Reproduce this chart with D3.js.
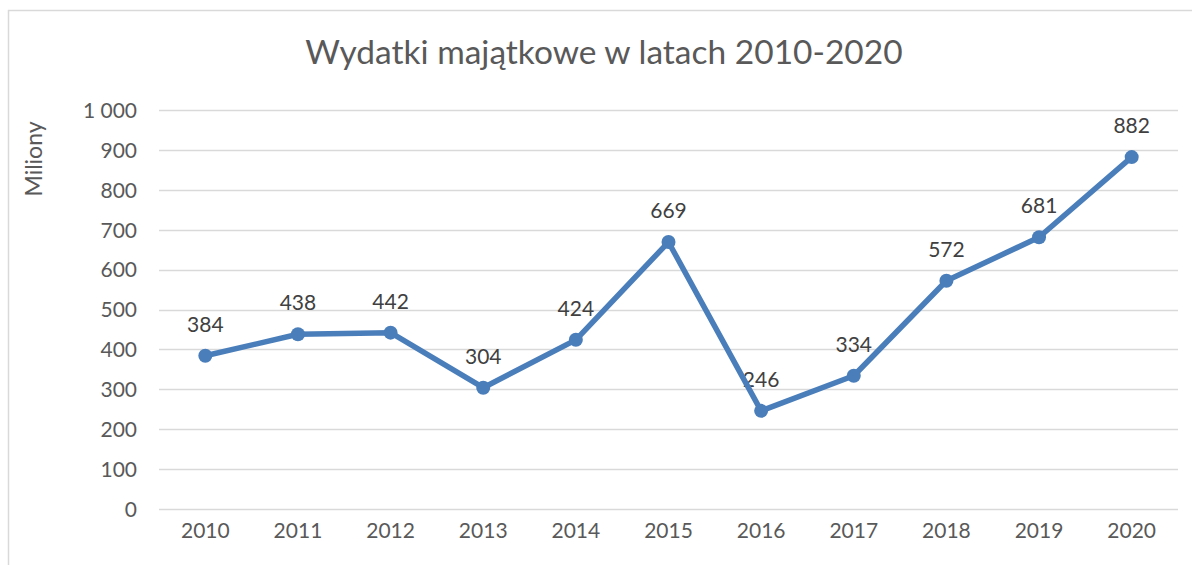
<!DOCTYPE html>
<html><head><meta charset="utf-8">
<script src="https://cdn.jsdelivr.net/npm/d3@7"></script>
<style>body{margin:0;background:#fff}svg{display:block}</style>
</head><body>
<script>
const years = ["2010","2011","2012","2013","2014","2015","2016","2017","2018","2019","2020"];
const values = [384, 438, 442, 304, 424, 669, 246, 334, 572, 681, 882];
const yTicks = [0,100,200,300,400,500,600,700,800,900,1000];
const title = "Wydatki majątkowe w latach 2010-2020";
const yTitle = "Miliony";

const W = 1192, H = 565;
const svg = d3.select("body").append("svg").attr("width", W).attr("height", H);
const font = "Lato, 'Open Sans', sans-serif";

// chart border (extends past the right/bottom edges)
svg.append("rect").attr("x", 8.5).attr("y", 10.5).attr("width", 1200).attr("height", 600)
  .attr("fill", "#fff").attr("stroke", "#d9d9d9").attr("stroke-width", 1.5);

const x = d3.scaleBand().domain(years).range([159, 1178]);
const y = d3.scaleLinear().domain([0, 1000]).range([509, 110]);

// gridlines
svg.append("g").selectAll("line").data(yTicks).join("line")
  .attr("x1", 159).attr("x2", 1178)
  .attr("y1", d => Math.round(y(d)) + 0.5).attr("y2", d => Math.round(y(d)) + 0.5)
  .attr("stroke", "#d9d9d9").attr("stroke-width", 1.3);

const fmt = d => d >= 1000 ? d3.format(",")(d).replace(",", " ") : String(d);

// y axis
const yAxis = svg.append("g").attr("transform", "translate(137,0)")
  .call(d3.axisLeft(y).tickValues(yTicks).tickFormat(fmt).tickSize(0).tickPadding(0));
yAxis.select(".domain").remove();
yAxis.selectAll("text").attr("font-family", font).attr("font-size", 21).attr("fill", "#595959").attr("dy", "0.35em");

// x axis
const xAxis = svg.append("g").attr("transform", "translate(0,509)")
  .call(d3.axisBottom(x).tickSize(0).tickPadding(22));
xAxis.select(".domain").remove();
xAxis.selectAll("text").attr("font-family", font).attr("font-size", 21).attr("fill", "#595959").attr("dy", "0.35em");

// title
svg.append("text").attr("x", 604).attr("y", 64).attr("text-anchor", "middle")
  .attr("font-family", font).attr("font-size", 33.5).attr("fill", "#595959").text(title);

// y axis title
svg.append("text").attr("transform", "translate(42,159) rotate(-90)").attr("text-anchor", "middle")
  .attr("font-family", font).attr("font-size", 23).attr("fill", "#595959").text(yTitle);

const cx = d => x(d) + x.bandwidth() / 2;

// labels
svg.append("g").selectAll("text").data(years).join("text")
  .attr("x", d => cx(d)).attr("y", (d, i) => y(values[i]) - 24)
  .attr("text-anchor", "middle").attr("font-family", font).attr("font-size", 21)
  .attr("fill", "#404040").text((d, i) => values[i]);

// line
const line = d3.line().x(d => cx(d)).y((d, i) => y(values[i]));
svg.append("path").datum(years).attr("d", line).attr("fill", "none")
  .attr("stroke", "#4a7ebb").attr("stroke-width", 5.5).attr("stroke-linejoin", "round");

svg.append("g").selectAll("circle").data(years).join("circle")
  .attr("cx", d => cx(d)).attr("cy", (d, i) => y(values[i])).attr("r", 7)
  .attr("fill", "#4a7ebb");
</script>
</body></html>
